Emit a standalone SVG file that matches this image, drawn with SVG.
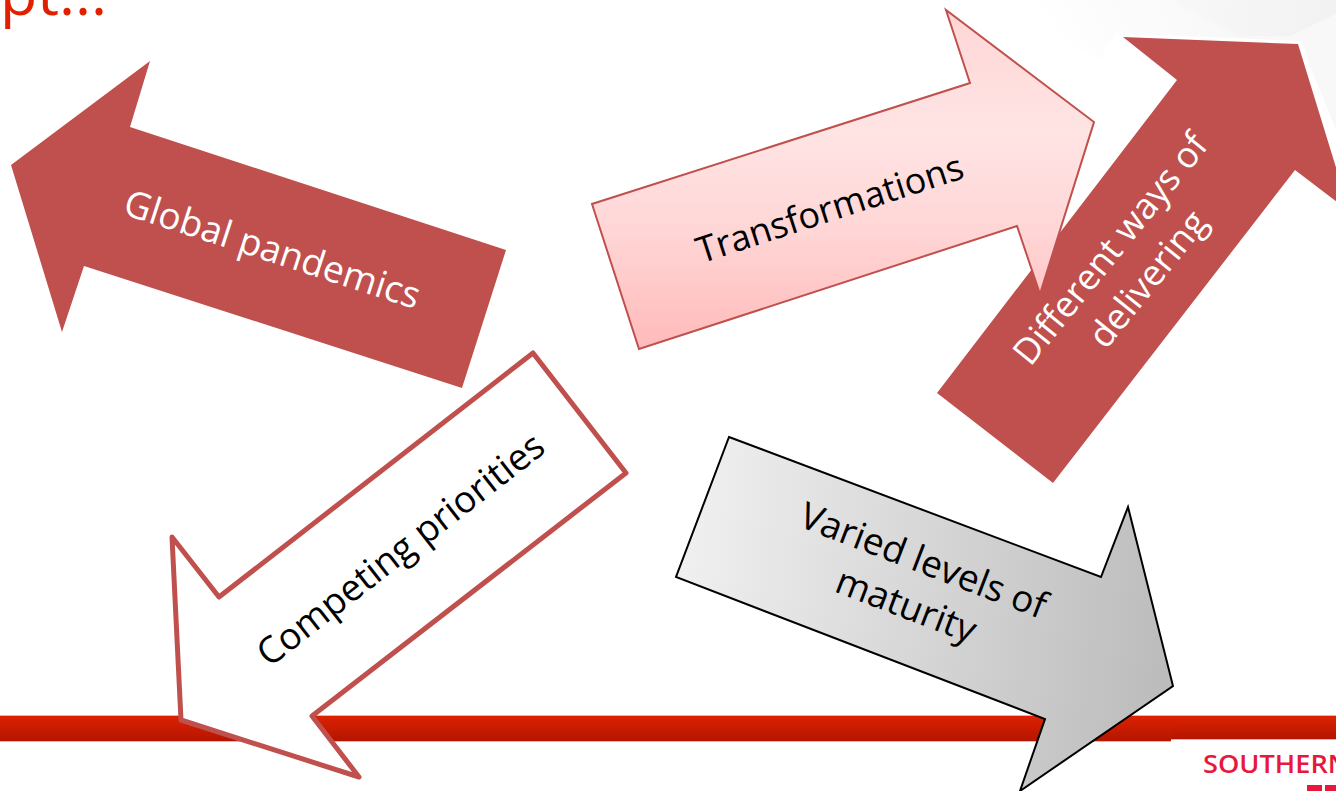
<svg xmlns="http://www.w3.org/2000/svg" width="1336" height="791" viewBox="0 0 1336 791">
<style>
text{font-family:"Open Sans","Liberation Sans",sans-serif;text-anchor:middle;font-size:37px}
.w{fill:#fff}.k{fill:#000}
</style>
<defs>
<linearGradient id="bar" x1="0" y1="0" x2="0" y2="1"><stop offset="0" stop-color="#dc2200"/><stop offset="1" stop-color="#b41500"/></linearGradient>
<linearGradient id="pink" gradientUnits="userSpaceOnUse" x1="0" y1="10" x2="0" y2="349"><stop offset="0" stop-color="#ffd6d6"/><stop offset="0.36" stop-color="#ffe4e4"/><stop offset="0.65" stop-color="#ffd6d6"/><stop offset="1" stop-color="#ffbaba"/></linearGradient>
<linearGradient id="grey" gradientUnits="userSpaceOnUse" x1="690" y1="560" x2="1170" y2="620"><stop offset="0" stop-color="#efefef"/><stop offset="1" stop-color="#bcbcbc"/></linearGradient>
<linearGradient id="sheen" gradientUnits="userSpaceOnUse" x1="1060" y1="60" x2="1200" y2="-20"><stop offset="0" stop-color="#ffffff"/><stop offset="1" stop-color="#f8f8f8"/></linearGradient>
<linearGradient id="sheen2" gradientUnits="userSpaceOnUse" x1="1170" y1="0" x2="1320" y2="30"><stop offset="0" stop-color="#f8f8f8"/><stop offset="1" stop-color="#f2f2f2"/></linearGradient>
</defs>
<rect width="1336" height="791" fill="#fff"/>
<g id="background">
<polygon points="990,0 1336,0 1336,130 1300,42 1115,34 1100,60" fill="url(#sheen)"/>
<polygon points="1170,0 1336,0 1336,14 1290,36 1240,36" fill="url(#sheen2)"/>
<rect x="0" y="715" width="1336" height="1" fill="#f2b0a0"/>
<rect x="0" y="741" width="1171" height="1" fill="#f2b0a0"/>
<rect x="1171" y="739" width="165" height="1" fill="#f2b0a0"/>
<rect x="0" y="716" width="1171" height="25" fill="url(#bar)"/>
<rect x="1171" y="716" width="165" height="23" fill="url(#bar)"/>
<text x="0" y="15" style="font-size:61px;text-anchor:start;fill:#e02000;font-weight:400">pt...</text>
<text x="1203" y="773" textLength="146" lengthAdjust="spacingAndGlyphs" style="font-size:26px;text-anchor:start;fill:#e8173c;font-weight:600">SOUTHERN</text>
<rect x="1307" y="785" width="15" height="6" fill="#e8173c"/>
<rect x="1325" y="785" width="11" height="6" fill="#e8173c"/>
</g>
<g id="different-ways">
<polygon points="1113,33 1302,41 1346,180 1346,210 1296,174 1053,489 931,393 1170,80" fill="#fff"/>
<polygon points="1123,37 1298,44 1346,200 1346,209 1295,170 1053,483 937,393 1177,80" fill="#c0504d"/>
<text class="w" transform="translate(1134,268) rotate(-51)" style="font-size:36px"><tspan x="0" y="-18">Different ways of</tspan><tspan x="0" y="30">delivering</tspan></text>
</g>
<g id="transformations">
<polygon points="946,10 970,83 592,204 639,349 1017,226 1040,294 1094,122" fill="url(#pink)" stroke="#c0504d" stroke-width="2"/>
<text class="k" transform="translate(830,209) rotate(-18)" style="font-size:36px" y="12">Transformations</text>
</g>
<g id="global-pandemics">
<polygon points="150,61 130,127 506,250 462,388 84,266 62,332 11,165" fill="#c0504d"/>
<text class="w" transform="translate(272,250) rotate(18)" y="12">Global pandemics</text>
</g>
<g id="competing-priorities">
<polygon points="533,353 626,473 312,716 359,777 181,720 172,537 219,597" fill="#fff" stroke="#c0504d" stroke-width="5" stroke-linejoin="round"/>
<text class="k" transform="translate(401,550) rotate(-38)" y="12">Competing priorities</text>
</g>
<g id="varied-maturity">
<polygon points="729,437 1101,577 1128,507 1173,686 1020,791 1045,719 676,577" fill="url(#grey)" stroke="#000" stroke-width="2"/>
<text class="k" transform="translate(916,580) rotate(21)"><tspan x="0" y="-8">Varied levels of</tspan><tspan x="0" y="40">maturity</tspan></text>
</g>
<g id="connectors"></g>
</svg>
